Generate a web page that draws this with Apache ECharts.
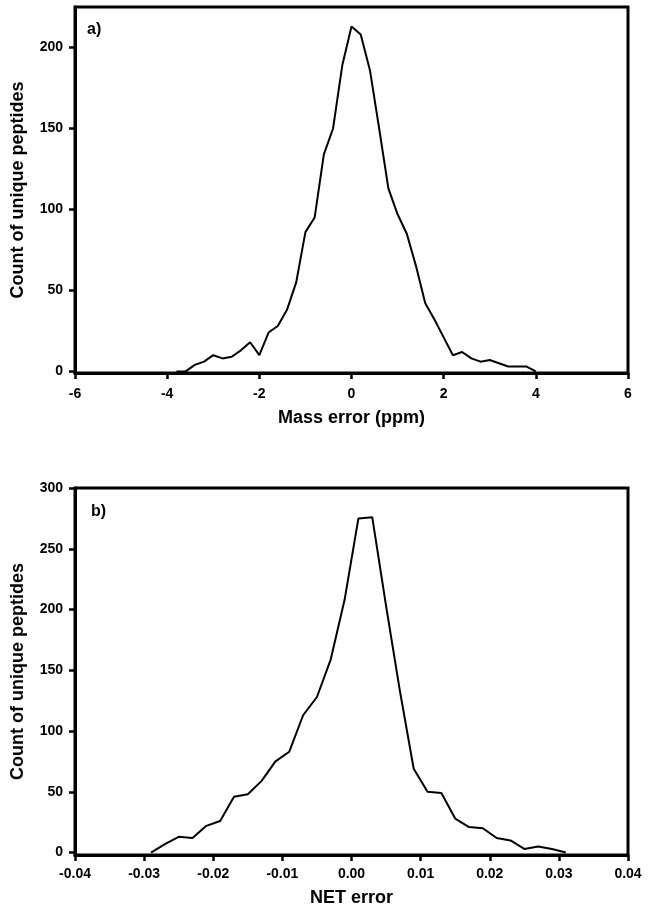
<!DOCTYPE html>
<html>
<head>
<meta charset="utf-8">
<script src="https://cdn.jsdelivr.net/npm/echarts@6/dist/echarts.min.js"></script>
<style>
html,body{margin:0;padding:0;background:#fff;}
#c{width:649px;height:911px;}
</style>
</head>
<body>
<div id="c"></div>
<script>
// Panel a) Mass error (ppm)
const massError = [-3.8,-3.6,-3.4,-3.2,-3.0,-2.8,-2.6,-2.4,-2.2,-2.0,-1.8,-1.6,-1.4,-1.2,-1.0,-0.8,-0.6,-0.4,-0.2,0.0,0.2,0.4,0.6,0.8,1.0,1.2,1.4,1.6,1.8,2.0,2.2,2.4,2.6,2.8,3.0,3.2,3.4,3.6,3.8,4.0];
const massCount = [0,0,4,6,10,8,9,13,18,10,24,28,38,55,86,95,134,150,189,213,208,186,150,113,97,85,65,42,32,21,10,12,8,6,7,5,3,3,3,0];
const massYTicks = [0,50,100,150,200];

// Panel b) NET error
const netError = [-0.029,-0.027,-0.025,-0.023,-0.021,-0.019,-0.017,-0.015,-0.013,-0.011,-0.009,-0.007,-0.005,-0.003,-0.001,0.001,0.003,0.005,0.007,0.009,0.011,0.013,0.015,0.017,0.019,0.021,0.023,0.025,0.027,0.029,0.031];
const netCount = [0,7,13,12,22,26,46,48,59,75,83,113,128,159,208,275,276,203,133,69,50,49,28,21,20,12,10,3,5,3,0];
const netYTicks = [0,50,100,150,200,250,300];

const yTitle = 'Count of unique peptides';
const xTitleA = 'Mass error (ppm)';
const xTitleB = 'NET error';

const FONT = '"Liberation Sans", Arial, sans-serif';
const labelStyle = {color:'#000', fontWeight:'bold', fontSize:14, fontFamily:FONT};
const nameStyle = {color:'#000', fontWeight:'bold', fontSize:18, fontFamily:FONT};
const lineStyle = {color:'#000', width:3};
const tickStyle = {color:'#000', width:2.5};

const chart = echarts.init(document.getElementById('c'), null, {renderer:'canvas'});
chart.setOption({
  animation:false,
  backgroundColor:'#fff',
  grid:[
    {left:75, width:553, top:7, height:366, show:true, borderColor:'#000', borderWidth:3},
    {left:75, width:553, top:488, height:367, show:true, borderColor:'#000', borderWidth:3}
  ],
  xAxis:[
    {gridIndex:0, type:'value', min:-6, max:6, interval:2,
     name:xTitleA, nameLocation:'middle', nameGap:36, nameTextStyle:nameStyle,
     axisLine:{onZero:false, lineStyle:lineStyle}, axisTick:{inside:false, length:6, lineStyle:tickStyle},
     axisLabel:Object.assign({margin:14}, labelStyle), splitLine:{show:false}},
    {gridIndex:1, type:'value', min:-0.04, max:0.04, interval:0.01,
     name:xTitleB, nameLocation:'middle', nameGap:34, nameTextStyle:nameStyle,
     axisLine:{onZero:false, lineStyle:lineStyle}, axisTick:{inside:false, length:6, lineStyle:tickStyle},
     axisLabel:Object.assign({margin:12, formatter:v=>v.toFixed(2)}, labelStyle), splitLine:{show:false}}
  ],
  yAxis:[
    {gridIndex:0, type:'value', min:-1, max:225,
     name:yTitle, nameLocation:'middle', nameGap:48, nameTextStyle:nameStyle,
     axisLine:{onZero:false, lineStyle:lineStyle}, axisTick:{inside:false, length:6, lineStyle:tickStyle, customValues:massYTicks},
     axisLabel:Object.assign({margin:12, customValues:massYTicks}, labelStyle), splitLine:{show:false}},
    {gridIndex:1, type:'value', min:-2, max:300,
     name:yTitle, nameLocation:'middle', nameGap:48, nameTextStyle:nameStyle,
     axisLine:{onZero:false, lineStyle:lineStyle}, axisTick:{inside:false, length:6, lineStyle:tickStyle, customValues:netYTicks},
     axisLabel:Object.assign({margin:12, customValues:netYTicks}, labelStyle), splitLine:{show:false}}
  ],
  graphic:[
    {type:'text', left:87, top:22, style:{text:'a)', fill:'#000', font:'bold 16px ' + FONT}},
    {type:'text', left:91, top:504, style:{text:'b)', fill:'#000', font:'bold 16px ' + FONT}}
  ],
  series:[
    {type:'line', xAxisIndex:0, yAxisIndex:0, showSymbol:false, symbol:'none',
     lineStyle:{color:'#000', width:2}, data:massError.map((x,i)=>[x, massCount[i]])},
    {type:'line', xAxisIndex:1, yAxisIndex:1, showSymbol:false, symbol:'none',
     lineStyle:{color:'#000', width:2}, data:netError.map((x,i)=>[x, netCount[i]])}
  ]
});
</script>
</body>
</html>
